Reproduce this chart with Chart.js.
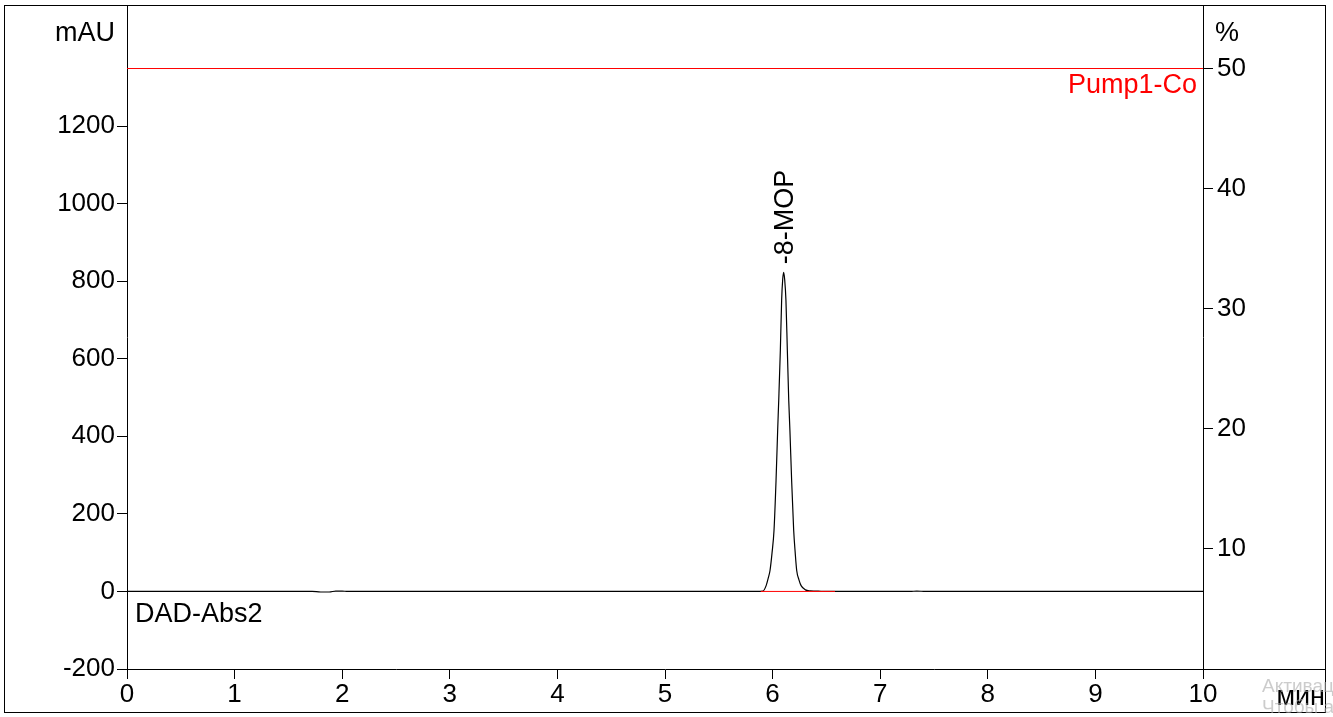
<!DOCTYPE html>
<html>
<head>
<meta charset="utf-8">
<script src="https://cdn.jsdelivr.net/npm/chart.js@4.4.1/dist/chart.umd.min.js"></script>
<style>
html,body{margin:0;padding:0;background:#fff;}
#wrap{width:1333px;height:717px;position:relative;}
</style>
</head>
<body>
<div id="wrap"><canvas id="c" width="1333" height="717"></canvas></div>
<script>
// ---- data ----
const timeMin = [0, 1.72, 1.8, 1.88, 1.94, 2.0, 2.05, 5.85, 5.91, 5.94, 5.96, 5.976, 5.995, 6.013, 6.032, 6.047, 6.057, 6.072, 6.084, 6.094, 6.103, 6.112, 6.124, 6.137, 6.150, 6.161, 6.177, 6.196, 6.210, 6.224, 6.245, 6.265, 6.305, 6.35, 6.45, 6.6, 7.28, 7.34, 7.42, 10];
const absMAU  = [0, 0, -1.5, -1.5, 1, 1, 0, 0, 1, 15, 35, 54, 100, 157, 286, 415, 493, 622, 751, 805, 823, 805, 751, 622, 493, 415, 286, 157, 100, 54, 30, 15, 4, 1.5, 0.5, 0, 0, 1, 0, 0];
const pumpTime = [0, 10];
const pumpPct  = [50, 50];
const baseTime = [5.89, 6.58];
const baseVal  = [0, 0];
const xTicks = [0,1,2,3,4,5,6,7,8,9,10];
const yTicks = [-200,0,200,400,600,800,1000,1200];
const y2Ticks = [10,20,30,40,50];
const peakName = "8-MOP";
const peakTime = 6.103;
const peakHeight = 823;

const FONT = "'Liberation Sans', Arial, sans-serif";
const FS = 26;
const FS2 = 27;

const toXY = (xs, ys) => xs.map((x,i)=>({x:x, y:ys[i]}));
const noPad = s => { s.paddingTop = 0; s.paddingBottom = 0; s.paddingLeft = 0; s.paddingRight = 0; };

const overlay = {
  id:'overlay',
  afterDraw(chart){
    const ctx = chart.ctx;
    const xs = chart.scales.x, ys = chart.scales.y;
    const ca = chart.chartArea;
    ctx.save();
    ctx.strokeStyle = '#000'; ctx.lineWidth = 1;
    ctx.strokeRect(4.5, 5.5, 1321, 707);
    ctx.beginPath(); ctx.moveTo(ca.right, 669.5); ctx.lineTo(1326, 669.5); ctx.stroke();
    ctx.font = FS2 + 'px ' + FONT;
    ctx.fillStyle = '#000';
    ctx.textBaseline = 'alphabetic';
    ctx.textAlign = 'right';
    ctx.fillText('mAU', 115, 41);
    ctx.textAlign = 'left';
    ctx.fillText('%', 1215, 41);
    ctx.fillText('DAD-Abs2', 135, 622);
    ctx.textAlign = 'right';
    ctx.fillText('мин', 1325, 705);
    ctx.fillStyle = '#ff0000';
    ctx.fillText('Pump1-Co', 1197, 93);
    const px = xs.getPixelForValue(peakTime);
    const py = ys.getPixelForValue(peakHeight);
    ctx.save();
    ctx.translate(px + 9, py - 8);
    ctx.rotate(-Math.PI/2);
    ctx.fillStyle = '#000';
    ctx.textAlign = 'left';
    ctx.fillText('-' + peakName, 0, 0);
    ctx.restore();
    ctx.fillStyle = 'rgba(170,170,170,0.6)';
    ctx.font = '19px ' + FONT;
    ctx.textAlign = 'left';
    ctx.fillText('Активация Windows', 1262, 692);
    ctx.fillText('Чтобы активировать Windows', 1262, 713);
    ctx.restore();
  }
};

new Chart(document.getElementById('c'), {
  type: 'line',
  data: {
    datasets: [
      {data: toXY(timeMin, absMAU), yAxisID:'y', borderColor:'#000', borderWidth:1.2, pointRadius:0, cubicInterpolationMode:'monotone', fill:false, order:2},
      {data: toXY(baseTime, baseVal), yAxisID:'y', borderColor:'#ff0000', borderWidth:1, pointRadius:0, fill:false, order:1},
      {data: toXY(pumpTime, pumpPct), yAxisID:'y2', borderColor:'#ff0000', borderWidth:1, pointRadius:0, fill:false, order:3}
    ]
  },
  options: {
    responsive:false,
    animation:false,
    devicePixelRatio:1,
    layout:{padding:{top:5,left:0,right:0,bottom:0}},
    plugins:{legend:{display:false}, tooltip:{enabled:false}},
    scales:{
      x:{
        type:'linear', min:0, max:10,
        afterFit(s){ s.height = 48; noPad(s); },
        afterBuildTicks(s){ s.ticks = xTicks.map(v=>({value:v})); },
        ticks:{ color:'#000', font:{family:FONT,size:FS}, padding:0, maxRotation:0, autoSkip:false, callback:v=>String(v) },
        grid:{ drawOnChartArea:false, drawTicks:true, tickLength:10, color:'#000' },
        border:{ display:true, color:'#000', width:1 }
      },
      y:{
        type:'linear', position:'left', min:-200, max:1512,
        afterFit(s){ s.width = 127; noPad(s); },
        afterBuildTicks(s){ s.ticks = yTicks.map(v=>({value:v})); },
        ticks:{ color:'#000', font:{family:FONT,size:FS}, padding:2, autoSkip:false, callback:v=>String(v) },
        grid:{ drawOnChartArea:false, drawTicks:true, tickLength:10, color:'#000' },
        border:{ display:true, color:'#000', width:1 }
      },
      y2:{
        type:'linear', position:'right', min:0, max:55.29,
        afterFit(s){ s.width = 130; noPad(s); },
        afterBuildTicks(s){ s.ticks = y2Ticks.map(v=>({value:v})); },
        ticks:{ color:'#000', font:{family:FONT,size:FS}, padding:4, autoSkip:false, callback:v=>String(v) },
        grid:{ drawOnChartArea:false, drawTicks:true, tickLength:10, color:'#000' },
        border:{ display:true, color:'#000', width:1 }
      }
    }
  },
  plugins:[overlay]
});
</script>
</body>
</html>
